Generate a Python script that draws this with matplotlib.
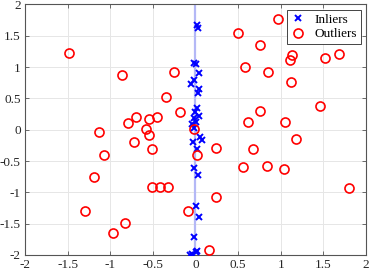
import matplotlib
matplotlib.use("Agg")
import matplotlib.pyplot as plt

inlier_x = [0.014, 0.026, -0.018, 0.006, 0.041, -0.018, -0.053, 0.041, 0.026, 0.014,
            -0.002, 0.037, -0.014, 0.006, -0.037, -0.014, 0.053, 0.073, -0.026, 0.014,
            -0.022, 0.030, 0.002, 0.043, -0.014, 0.021, 0.006, -0.045, -0.070]
inlier_y = [1.67, 1.62, 1.06, 1.055, 0.91, 0.80, 0.73, 0.65, 0.59, 0.34,
            0.28, 0.22, 0.18, 0.13, 0.09, 0.02, -0.11, -0.165, -0.20, -0.31,
            -0.61, -0.73, -1.22, -1.40, -1.71, -1.93, -1.95, -1.99, -2.0]

outlier_x = [-1.484, -0.858, -0.252, -0.35, -0.182, -0.694, -0.795, -0.545, -0.448, -0.581,
             -1.132, -0.542, -0.725, -0.507, -1.070, -1.194, -0.514, -0.413, -0.323, -1.296,
             -0.827, -0.968, -0.088,
             0.964, 0.495, 0.757, 1.132, 1.109, 1.519, 1.680, 0.584, 0.854, 1.117,
             1.457, 0.757, 0.620, 1.050, -0.018, 1.179, 0.237, 0.678, 0.021, 0.553,
             0.835, 1.038, 1.797, 0.244, 0.158]
outlier_y = [1.22, 0.87, 0.92, 0.53, 0.29, 0.21, 0.11, 0.17, 0.20, 0.01,
             -0.04, -0.085, -0.19, -0.31, -0.40, -0.76, -0.915, -0.915, -0.92, -1.30,
             -1.495, -1.645, -1.30,
             1.77, 1.55, 1.36, 1.20, 1.12, 1.145, 1.21, 1.00, 0.92, 0.77,
             0.38, 0.30, 0.12, 0.12, 0.016, -0.155, -0.29, -0.31, -0.40, -0.60,
             -0.58, -0.62, -0.93, -1.08, -1.92]

xticks = [-2, -1.5, -1, -0.5, 0, 0.5, 1, 1.5, 2]
yticks = [-2, -1.5, -1, -0.5, 0, 0.5, 1, 1.5, 2]
xticklabels = ["-2", "-1.5", "-1", "-0.5", "0", "0.5", "1", "1.5", "2"]
yticklabels = ["-2", "-1.5", "-1", "-0.5", "0", "0.5", "1", "1.5", "2"]

plt.rcParams['font.family'] = ['Liberation Serif', 'DejaVu Serif']

fig = plt.figure(figsize=(3.74, 2.80), dpi=100)
ax = fig.add_axes([0.0668, 0.0893, 0.9118, 0.8947])

ax.axvline(0, color='#b4b8f6', lw=1.6, zorder=1)
ax.plot(inlier_x, inlier_y, linestyle='none', marker='x', color='#0000ff',
        markersize=5, mew=1.4, label='Inliers', zorder=3)
ax.plot(outlier_x, outlier_y, linestyle='none', marker='o', markerfacecolor='none',
        markeredgecolor='#ff0000', markersize=6.5, mew=1.2, label='Outliers', zorder=4)

ax.set_xlim(-2, 2)
ax.set_ylim(-2, 2)
ax.set_xticks(xticks)
ax.set_xticklabels(xticklabels)
ax.set_yticks(yticks)
ax.set_yticklabels(yticklabels)
ax.grid(True, color='#e6e6e6', lw=0.7)
ax.set_axisbelow(True)
ax.tick_params(direction='in', length=3, width=0.6, color='#555555',
               labelsize=9.5, labelcolor='#262626', top=True, right=True, pad=3)
for s in ax.spines.values():
    s.set_color('#555555')
    s.set_linewidth(0.8)

leg = ax.legend(loc='upper right', fontsize=9.5, frameon=True, fancybox=False,
                edgecolor='#262626', framealpha=1, borderpad=0.3, labelspacing=0.15,
                handlelength=1.2, handletextpad=0.6, borderaxespad=0.4)
leg.get_frame().set_linewidth(0.6)

fig.savefig('out.png', dpi=100)
